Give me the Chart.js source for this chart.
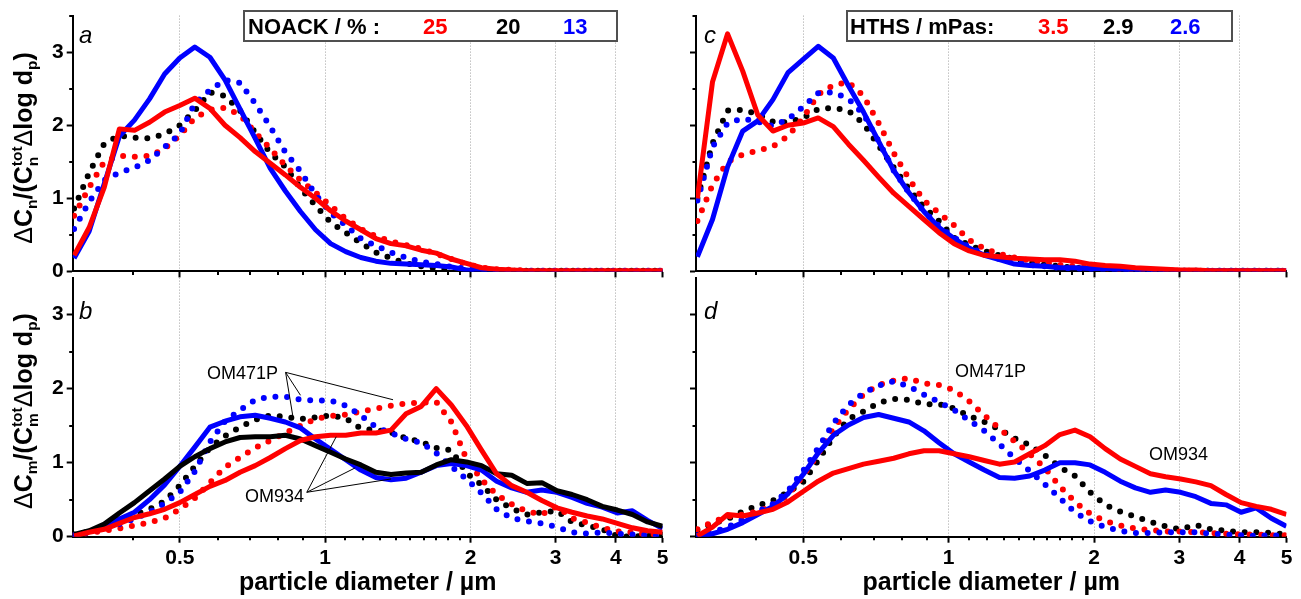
<!DOCTYPE html>
<html>
<head>
<meta charset="utf-8">
<script src="https://cdn.jsdelivr.net/npm/chart.js@4/dist/chart.umd.min.js"></script>
<style>
  body { margin:0; width:1301px; height:599px; position:relative; overflow:hidden; background:#fff;
         font-family:"Liberation Sans", Arial, sans-serif; color:#000; }
  canvas { position:absolute; }
  .t { position:absolute; white-space:nowrap; z-index:5; }
  .box { position:absolute; box-sizing:border-box; border:2px solid #505050; background:#fff; z-index:4; }
  .leg { font-size:22px; line-height:22px; font-weight:bold; }
  .let { font-size:24px; line-height:24px; font-style:italic; }
  .om { font-size:18px; line-height:18px; }
  .yt { position:absolute; white-space:nowrap; z-index:5; font-size:25px; line-height:25px; font-weight:bold;
        transform:translate(-50%,-50%) rotate(-90deg); }
  .yt .g { font-weight:normal; }
  .yt sub { font-size:0.62em; vertical-align:-0.3em; line-height:0; }
  .ss { display:inline-block; font-size:0.62em; line-height:1; vertical-align:-0.3em; }
  .ss span { display:block; }
</style>
</head>
<body>
<canvas id="pa" width="675" height="287" style="left:0;top:0"></canvas>
<canvas id="pb" width="675" height="337" style="left:0;top:262px"></canvas>
<canvas id="pc" width="621" height="287" style="left:680px;top:0"></canvas>
<canvas id="pd" width="621" height="337" style="left:680px;top:262px"></canvas>

<div class="box" style="left:243px;top:10px;width:375px;height:32px"></div>
<div class="t leg" style="left:248px;top:16px">NOACK / % :</div>
<div class="t leg" style="left:423px;top:16px;color:#ff0000">25</div>
<div class="t leg" style="left:496px;top:16px">20</div>
<div class="t leg" style="left:563px;top:16px;color:#0000ff">13</div>

<div class="box" style="left:846px;top:10px;width:387px;height:32px"></div>
<div class="t leg" style="left:850px;top:16px">HTHS / mPas:</div>
<div class="t leg" style="left:1038px;top:16px;color:#ff0000">3.5</div>
<div class="t leg" style="left:1103px;top:16px">2.9</div>
<div class="t leg" style="left:1170px;top:16px;color:#0000ff">2.6</div>

<div class="t let" style="left:79px;top:23px">a</div>
<div class="t let" style="left:79px;top:299px">b</div>
<div class="t let" style="left:704px;top:23px">c</div>
<div class="t let" style="left:704px;top:299px">d</div>

<div class="t om" style="left:207px;top:364px">OM471P</div>
<div class="t om" style="left:245px;top:487px">OM934</div>
<div class="t om" style="left:955px;top:362px">OM471P</div>
<div class="t om" style="left:1149px;top:445px">OM934</div>

<div class="yt" style="left:24px;top:148px"><span class="g">Δ</span>C<sub>n</sub>/(C<span class="ss"><span>tot</span><span>n</span></span><span class="g">Δ</span>log d<sub>p</sub>)</div>
<div class="yt" style="left:24px;top:411px"><span class="g">Δ</span>C<sub>m</sub>/(C<span class="ss"><span>tot</span><span>m</span></span><span class="g">Δ</span>log d<sub>p</sub>)</div>

<script>
// particle size channels (µm), 32 per decade, shared by every curve
const diam = [0.302,0.3245,0.3487,0.3748,0.4027,0.4328,0.4650,0.4998,0.5370,0.5771,
  0.6202,0.6664,0.7162,0.7696,0.8270,0.8887,0.9550,1.0263,1.1028,1.1851,
  1.2735,1.3685,1.4706,1.5804,1.6983,1.8250,1.9611,2.1074,2.2647,2.4336,
  2.6152,2.8103,3.0200,3.2453,3.4874,3.7476,4.0272,4.3277,4.6505,4.9975];

// axis ticks
const xMajor = [0.5, 1, 2, 3, 4, 5];
const xMinor = [0.4, 0.6, 0.7, 0.8, 0.9, 1.1, 1.2, 1.3, 1.4, 1.5, 1.6, 1.7, 1.8, 1.9];
const xGrid = [0.5, 1, 2, 3, 4];
const yMajor = [0, 1, 2, 3];
const yMinor = [0.5, 1.5, 2.5, 3.5];

// a: number distribution, NOACK series (solid = OM934, dotted = OM471P)
const aSolidRed = [0.22,0.6,1.15,1.95,1.93,2.04,2.18,2.27,2.37,2.23, 2.0,1.83,1.64,1.48,1.32,1.15,1.0,0.83,0.69,0.57,
  0.45,0.38,0.35,0.29,0.25,0.17,0.11,0.05,0.03,0.02, 0.01,0.01,0.01,0.01,0.01,0.01,0.01,0.01,0.01,0.01];
const aSolidBlue = [0.18,0.55,1.2,1.85,2.07,2.36,2.7,2.92,3.07,2.93, 2.62,2.22,1.82,1.41,1.1,0.82,0.57,0.38,0.27,0.19,
  0.14,0.11,0.1,0.09,0.08,0.06,0.02,0.01,0.01,0.005, 0,0,0,0,0,0,0,0,0,0];
const aDotRed = [0.76,1.15,1.5,1.58,1.57,1.58,1.68,1.86,2.1,2.21, 2.24,2.14,1.9,1.68,1.45,1.25,1.08,0.9,0.72,0.58,
  0.48,0.41,0.36,0.31,0.24,0.17,0.1,0.05,0.03,0.02, 0.01,0.01,0.01,0.01,0.01,0.01,0.01,0.01,0.01,0.01];
const aDotBlack = [0.86,1.35,1.75,1.86,1.83,1.82,1.88,2.0,2.2,2.45, 2.4,2.2,1.9,1.62,1.43,1.14,0.9,0.67,0.53,0.39,
  0.26,0.18,0.11,0.07,0.04,0.02,0.01,0.01,0.01,0.01, 0.01,0.01,0.01,0.01,0.01,0.01,0.01,0.01,0.01,0.01];
const aDotBlue = [0.58,0.95,1.25,1.35,1.42,1.52,1.7,1.88,2.3,2.48, 2.62,2.58,2.3,1.98,1.63,1.37,1.05,0.8,0.63,0.45,
  0.35,0.26,0.19,0.13,0.1,0.06,0.04,0.02,0.01,0.01, 0.01,0.01,0.01,0.01,0.01,0.01,0.01,0.01,0.01,0.01];

// b: mass distribution, NOACK series
const bSolidRed = [0.01,0.06,0.1,0.18,0.26,0.31,0.37,0.46,0.57,0.68, 0.76,0.87,0.96,1.07,1.19,1.3,1.35,1.37,1.37,1.4,
  1.4,1.44,1.66,1.76,2.0,1.78,1.5,1.17,0.85,0.69, 0.6,0.49,0.39,0.33,0.28,0.24,0.18,0.12,0.08,0.06];
const bSolidBlack = [0.03,0.08,0.17,0.32,0.46,0.62,0.78,0.95,1.08,1.19, 1.28,1.34,1.35,1.35,1.37,1.32,1.23,1.14,1.05,0.97,
  0.87,0.84,0.86,0.87,0.97,1.04,1.01,0.96,0.85,0.83, 0.72,0.73,0.62,0.57,0.5,0.41,0.36,0.3,0.2,0.14];
const bSolidBlue = [0.02,0.07,0.14,0.24,0.33,0.5,0.7,0.95,1.21,1.48, 1.56,1.62,1.64,1.6,1.55,1.47,1.32,1.18,1.04,0.9,
  0.8,0.77,0.79,0.87,0.96,0.99,0.96,0.9,0.75,0.66, 0.6,0.63,0.6,0.53,0.45,0.4,0.32,0.35,0.22,0.11];
const bDotRed = [0.02,0.05,0.08,0.11,0.15,0.19,0.25,0.37,0.52,0.73, 0.94,1.07,1.2,1.3,1.4,1.5,1.59,1.63,1.65,1.69,
  1.73,1.77,1.8,1.81,1.82,1.55,1.05,0.77,0.57,0.44, 0.34,0.3,0.41,0.25,0.19,0.12,0.07,0.06,0.03,0.03];
const bDotBlack = [0.03,0.07,0.14,0.24,0.3,0.37,0.48,0.69,0.95,1.2, 1.36,1.48,1.58,1.64,1.62,1.59,1.61,1.64,1.6,1.46,
  1.44,1.41,1.33,1.28,1.2,1.17,0.86,0.7,0.5,0.38, 0.3,0.33,0.35,0.2,0.15,0.1,0.01,0,0.02,0.03];
const bDotBlue = [0.02,0.06,0.11,0.17,0.24,0.33,0.45,0.6,0.88,1.28, 1.56,1.71,1.85,1.89,1.89,1.85,1.84,1.84,1.77,1.64,
  1.48,1.4,1.32,1.27,1.13,0.95,0.78,0.59,0.37,0.25, 0.21,0.18,0.13,0.06,0.04,0.06,0.04,0.03,0.02,0.01];

// c: number distribution, HTHS series
const cSolidRed = [1.0,2.59,3.25,2.74,2.14,1.92,2.0,2.03,2.1,1.98, 1.74,1.52,1.29,1.07,0.89,0.71,0.53,0.38,0.28,0.22,
  0.2,0.18,0.17,0.16,0.16,0.14,0.1,0.08,0.07,0.05, 0.04,0.03,0.02,0.02,0.01,0.01,0.01,0.01,0.01,0.01];
const cSolidBlue = [0.2,0.71,1.43,1.92,2.06,2.35,2.72,2.9,3.08,2.92, 2.54,2.18,1.78,1.38,1.08,0.82,0.6,0.45,0.32,0.22,
  0.16,0.1,0.08,0.07,0.05,0.05,0.04,0.04,0.03,0.02, 0.02,0.01,0.01,0.01,0.01,0.01,0.01,0.01,0.01,0.01];
const cDotRed = [0.69,1.18,1.5,1.6,1.65,1.71,1.85,2.1,2.42,2.55, 2.59,2.4,2.03,1.62,1.27,0.97,0.8,0.63,0.43,0.31,
  0.24,0.19,0.15,0.12,0.09,0.07,0.05,0.04,0.03,0.02, 0.01,0.01,0.01,0.01,0.01,0.01,0.01,0.01,0.01,0.01];
const cDotBlack = [1.0,1.75,2.2,2.21,2.15,2.05,2.04,2.1,2.22,2.24, 2.2,2.02,1.72,1.42,1.13,0.88,0.69,0.46,0.36,0.28,
  0.22,0.17,0.12,0.09,0.07,0.05,0.04,0.03,0.02,0.01, 0.01,0.01,0.01,0.01,0.01,0.01,0.01,0.01,0.01,0.01];
const cDotBlue = [0.97,1.7,2.03,2.09,2.05,1.99,2.08,2.25,2.44,2.45, 2.36,2.15,1.78,1.38,1.08,0.82,0.62,0.46,0.33,0.24,
  0.17,0.12,0.09,0.07,0.05,0.04,0.03,0.02,0.01,0.01, 0.01,0.01,0.01,0.01,0.01,0.01,0.01,0.01,0.01,0.01];

// d: mass distribution, HTHS series
const dSolidRed = [0.01,0.13,0.3,0.28,0.32,0.37,0.47,0.61,0.75,0.86, 0.92,0.98,1.02,1.06,1.12,1.16,1.16,1.12,1.08,1.03,
  0.98,1.01,1.12,1.23,1.38,1.44,1.35,1.19,1.05,0.95, 0.85,0.81,0.78,0.74,0.69,0.57,0.46,0.41,0.37,0.3];
const dSolidBlue = [0,0.04,0.1,0.19,0.3,0.41,0.58,0.84,1.13,1.37, 1.51,1.61,1.65,1.6,1.55,1.43,1.27,1.12,1.01,0.9,
  0.8,0.79,0.82,0.9,1.0,1.0,0.97,0.87,0.75,0.66, 0.6,0.63,0.6,0.54,0.45,0.43,0.33,0.39,0.25,0.14];
const dDotRed = [0.1,0.2,0.27,0.3,0.34,0.42,0.56,0.82,1.12,1.46, 1.72,1.92,2.05,2.11,2.14,2.07,2.05,1.98,1.83,1.64,
  1.46,1.29,1.12,0.93,0.68,0.47,0.31,0.21,0.15,0.11, 0.09,0.07,0.07,0.06,0.05,0.04,0.03,0.03,0.02,0.02];
const dDotBlack = [0.09,0.18,0.24,0.34,0.42,0.49,0.6,0.74,1.03,1.35, 1.59,1.69,1.81,1.86,1.85,1.79,1.79,1.73,1.63,1.55,
  1.45,1.33,1.24,1.1,0.94,0.82,0.6,0.43,0.34,0.27, 0.2,0.14,0.1,0.16,0.1,0.08,0.06,0.06,0.05,0.03];
const dDotBlue = [0.02,0.06,0.13,0.23,0.34,0.44,0.62,0.89,1.2,1.53, 1.78,1.94,2.04,2.1,2.03,1.92,1.82,1.71,1.57,1.43,
  1.25,1.06,0.89,0.71,0.52,0.33,0.21,0.13,0.08,0.05, 0.05,0.06,0.06,0.06,0.04,0.03,0.02,0.01,0.02,0.01];

// callout lines in b: [diameter, value] of the label end and of the curves they point to
const om471pFrom = [0.828, 2.22];
const om471pTo = [[0.889, 1.91], [0.857, 1.63], [1.382, 1.85]];
const om934From = [0.916, 0.6];
const om934To = [[1.054, 1.35], [1.154, 0.93], [1.369, 0.78]];

const RED = '#ff0000', BLUE = '#0000ff', BLACK = '#000000';

Chart.defaults.font.family = '"Liberation Sans", Arial, sans-serif';
Chart.defaults.color = '#000';

// short ticks between the labelled ones
const minorTicks = {
  id: 'minorTicks',
  afterDraw(chart, args, opts) {
    const {ctx, scales: {x, y}} = chart;
    ctx.save();
    ctx.strokeStyle = '#000';
    ctx.lineWidth = 2;
    ctx.beginPath();
    xMinor.forEach(v => {
      const px = Math.round(x.getPixelForValue(v));
      ctx.moveTo(px, x.top);
      ctx.lineTo(px, x.top + 3.5);
    });
    yMinor.forEach(v => {
      if (v > opts.yTop) return;
      const py = Math.round(y.getPixelForValue(v));
      ctx.moveTo(y.right, py);
      ctx.lineTo(y.right - 3.5, py);
    });
    ctx.stroke();
    ctx.restore();
  }
};

const leaders = {
  id: 'leaders',
  afterDatasetsDraw(chart, args, opts) {
    if (!opts.groups) return;
    const {ctx, scales: {x, y}} = chart;
    ctx.save();
    ctx.strokeStyle = '#000';
    ctx.lineWidth = 1;
    opts.groups.forEach(g => {
      g.to.forEach(p => {
        ctx.beginPath();
        ctx.moveTo(x.getPixelForValue(g.from[0]), y.getPixelForValue(g.from[1]));
        ctx.lineTo(x.getPixelForValue(p[0]), y.getPixelForValue(p[1]));
        ctx.stroke();
      });
    });
    ctx.restore();
  }
};

// solid = thick line, dotted = round dots spaced along the curve
function series(values, color, dotted) {
  return {
    data: diam.map((d, i) => ({x: d, y: values[i]})),
    borderColor: color,
    backgroundColor: color,
    borderWidth: dotted ? 6 : 5,
    borderDash: dotted ? [0, 11.7] : [],
    borderCapStyle: dotted ? 'round' : 'butt',
    borderJoinStyle: 'round',
    pointRadius: 0,
    pointHoverRadius: 0,
    tension: 0
  };
}

function panel(id, datasets, o) {
  return new Chart(document.getElementById(id), {
    type: 'line',
    data: {datasets},
    options: {
      responsive: false,
      animation: false,
      devicePixelRatio: 1,
      events: [],
      layout: {padding: {top: o.top, right: o.right, left: 0, bottom: 0}},
      plugins: {
        legend: {display: false},
        tooltip: {enabled: false},
        minorTicks: {yTop: o.yTop},
        leaders: {groups: o.leaders}
      },
      scales: {
        x: {
          type: 'logarithmic',
          min: 0.3,
          max: 5,
          afterBuildTicks: s => { s.ticks = xMajor.map(v => ({value: v})); },
          afterFit: s => { s.height = o.xHeight; },
          ticks: {
            autoSkip: false, maxRotation: 0, padding: 3,
            font: {size: 21, weight: 'bold'},
            callback: v => o.xLabels ? String(v) : ''
          },
          grid: {
            color: c => (c.tick && xGrid.includes(c.tick.value)) ? '#a0a0a0' : 'rgba(0,0,0,0)',
            lineWidth: 1,
            tickColor: '#000', tickWidth: 2, tickLength: 6
          },
          border: {color: '#000', width: 2, dash: [1, 2]},
          title: {
            display: o.xLabels,
            text: 'particle diameter / µm',
            font: {size: 25, weight: 'bold'},
            padding: {top: 0, bottom: 1}
          }
        },
        y: {
          min: 0,
          max: 3.5,
          afterBuildTicks: s => { s.ticks = yMajor.map(v => ({value: v})); },
          afterFit: s => { s.width = o.yWidth; },
          ticks: {
            padding: 3,
            font: {size: 21, weight: 'bold'},
            callback: v => o.yLabels ? String(v) : ''
          },
          grid: {drawOnChartArea: false, tickColor: '#000', tickWidth: 2, tickLength: 6},
          border: {color: '#000', width: 2}
        }
      }
    },
    plugins: [minorTicks, leaders]
  });
}

panel('pa', [
  series(aSolidRed, RED), series(aSolidBlue, BLUE),
  series(aDotBlue, BLUE, true), series(aDotRed, RED, true), series(aDotBlack, BLACK, true)
], {top: 11, right: 12.3, yWidth: 72.7, xHeight: 13.7, xLabels: false, yLabels: true, yTop: 3.5});

panel('pb', [
  series(bSolidRed, RED), series(bSolidBlack, BLACK), series(bSolidBlue, BLUE),
  series(bDotBlue, BLUE, true), series(bDotRed, RED, true), series(bDotBlack, BLACK, true)
], {top: 11.5, right: 12.3, yWidth: 72.7, xHeight: 62.3, xLabels: true, yLabels: true, yTop: 3,
    leaders: [{from: om471pFrom, to: om471pTo}, {from: om934From, to: om934To}]});

panel('pc', [
  series(cSolidRed, RED), series(cSolidBlue, BLUE),
  series(cDotBlue, BLUE, true), series(cDotRed, RED, true), series(cDotBlack, BLACK, true)
], {top: 11, right: 14.5, yWidth: 16, xHeight: 13.7, xLabels: false, yLabels: false, yTop: 3.5});

panel('pd', [
  series(dSolidRed, RED), series(dSolidBlue, BLUE),
  series(dDotBlue, BLUE, true), series(dDotRed, RED, true), series(dDotBlack, BLACK, true)
], {top: 11.5, right: 14.5, yWidth: 16, xHeight: 62.3, xLabels: true, yLabels: false, yTop: 3});
</script>
</body>
</html>
